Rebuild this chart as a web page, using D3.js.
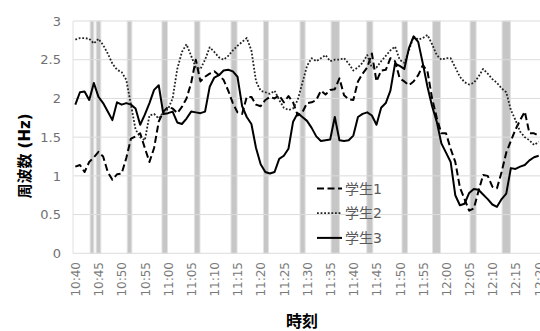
<!DOCTYPE html>
<html>
<head>
<meta charset="utf-8">
<script src="https://cdn.jsdelivr.net/npm/d3@7"></script>
<style>
body { margin: 0; background: #fff; }
svg { display: block; }
</style>
</head>
<body>
<div id="main"></div>
<script>
// one value per minute, 10:40 .. 12:20
var tickLabels = ["10:40", "10:45", "10:50", "10:55", "11:00", "11:05", "11:10", "11:15", "11:20", "11:25",
    "11:30", "11:35", "11:40", "11:45", "11:50", "11:55", "12:00", "12:05", "12:10", "12:15", "12:20"];
var seriesNames = ["学生1", "学生2", "学生3"];

var student1 = [1.12, 1.14, 1.05, 1.18, 1.24, 1.31, 1.25, 1.05, 0.95, 1.02,
    1.03, 1.23, 1.48, 1.51, 1.55, 1.36, 1.18, 1.36, 1.70, 1.83,
    1.89, 1.87, 1.81, 1.89, 2.00, 2.20, 2.50, 2.22, 2.28, 2.32,
    2.35, 2.30, 2.24, 2.10, 1.94, 1.82, 1.80, 2.02, 2.02, 1.92,
    1.90, 1.98, 2.02, 2.00, 2.04, 1.95, 2.03, 1.95, 1.78, 1.82,
    1.94, 1.95, 1.98, 2.10, 2.05, 2.11, 2.12, 2.26, 2.04, 1.99,
    1.98, 2.22, 2.32, 2.40, 2.58, 2.22, 2.36, 2.37, 2.52, 2.48,
    2.26, 2.22, 2.17, 2.22, 2.30, 2.43, 2.35, 2.00, 1.75, 1.55,
    1.55, 1.35, 1.18, 0.85, 0.70, 0.55, 0.58, 0.80, 1.01, 1.00,
    0.86, 0.84, 1.05, 1.30, 1.45, 1.60, 1.72, 1.83, 1.55, 1.55,
    1.52];

var student2 = [2.76, 2.78, 2.78, 2.77, 2.71, 2.77, 2.69, 2.58, 2.45, 2.37,
    2.34, 2.24, 1.92, 1.60, 1.50, 1.46, 1.78, 1.80, 1.74, 1.82,
    1.86, 2.00, 2.38, 2.60, 2.70, 2.55, 2.40, 2.38, 2.50, 2.66,
    2.60, 2.53, 2.50, 2.55, 2.62, 2.68, 2.73, 2.78, 2.62, 2.22,
    2.10, 2.08, 2.06, 2.10, 1.98, 1.88, 1.85, 1.87, 1.98, 2.20,
    2.42, 2.52, 2.48, 2.52, 2.56, 2.48, 2.50, 2.50, 2.52, 2.45,
    2.36, 2.40, 2.46, 2.56, 2.40, 2.40, 2.48, 2.55, 2.62, 2.67,
    2.50, 2.46, 2.62, 2.80, 2.76, 2.78, 2.82, 2.70, 2.56, 2.50,
    2.52, 2.52, 2.40, 2.28, 2.21, 2.18, 2.20, 2.28, 2.38, 2.32,
    2.25, 2.20, 2.13, 2.08, 1.85, 1.72, 1.57, 1.50, 1.46, 1.40,
    1.44];

var student3 = [1.92, 2.08, 2.09, 1.98, 2.20, 2.02, 1.94, 1.83, 1.72, 1.95,
    1.92, 1.94, 1.92, 1.87, 1.66, 1.79, 1.94, 2.11, 2.17, 1.80,
    1.81, 1.83, 1.69, 1.67, 1.74, 1.83, 1.82, 1.81, 1.83, 2.15,
    2.27, 2.30, 2.36, 2.37, 2.35, 2.28, 1.90, 1.76, 1.67, 1.36,
    1.15, 1.05, 1.03, 1.05, 1.22, 1.26, 1.35, 1.70, 1.81, 1.76,
    1.71, 1.62, 1.51, 1.45, 1.46, 1.47, 1.76, 1.46, 1.45, 1.46,
    1.52, 1.76, 1.80, 1.82, 1.78, 1.66, 1.88, 1.94, 2.10, 2.45,
    2.42, 2.38, 2.65, 2.80, 2.73, 2.45, 2.15, 1.90, 1.70, 1.42,
    1.30, 1.18, 0.75, 0.62, 0.64, 0.78, 0.83, 0.82, 0.76, 0.70,
    0.63, 0.60, 0.70, 0.77, 1.10, 1.09, 1.12, 1.14, 1.20, 1.24,
    1.26];

// shaded intervals, in minutes after 10:40
var bandStart = [3.2, 4.5, 11.2, 18.7, 25.7, 33.6, 40.6, 48.5, 55.2, 62.9, 70.5, 77.1, 85.2, 92.1];
var bandEnd = [4.0, 5.5, 12.2, 19.9, 26.9, 34.9, 41.7, 49.6, 57.0, 64.2, 71.7, 78.8, 86.5, 93.9];

var yTicks = [0, 0.5, 1, 1.5, 2, 2.5, 3];

var ctx = {
    w: 540,
    h: 331,
    left: 73,
    right: 541,
    top: 21,
    bottom: 253.3,
};

var svg = d3.select("#main").append("svg")
    .attr("width", ctx.w)
    .attr("height", ctx.h);

var x = d3.scaleLinear().domain([-0.5, 100.5]).range([ctx.left, ctx.right]);
var y = d3.scaleLinear().domain([0, 3]).range([ctx.bottom, ctx.top]);

// shaded bands (soft edge + core)
var bands = svg.append("g").selectAll("rect")
    .data(bandStart)
    .enter()
    .append("rect")
    .attr("x", function (d) { return x(d); })
    .attr("width", function (d, i) { return x(bandEnd[i]) - x(d); })
    .attr("y", ctx.top)
    .attr("height", ctx.bottom - ctx.top)
    .attr("fill", "#c6c6c6")
    .attr("stroke", "#e2e2e2")
    .attr("stroke-width", 1);

// horizontal grid
svg.append("g").selectAll("line")
    .data(yTicks)
    .enter()
    .append("line")
    .attr("x1", ctx.left)
    .attr("x2", ctx.right)
    .attr("y1", function (d) { return y(d); })
    .attr("y2", function (d) { return y(d); })
    .attr("stroke", "#dcdcdc")
    .attr("stroke-width", 1);

svg.append("line")
    .attr("x1", ctx.left).attr("x2", ctx.left)
    .attr("y1", ctx.top).attr("y2", ctx.bottom)
    .attr("stroke", "#e0e0e0");

// y labels
svg.append("g").selectAll("text")
    .data(yTicks)
    .enter()
    .append("text")
    .attr("x", 61)
    .attr("y", function (d) { return y(d); })
    .attr("dy", "0.36em")
    .attr("text-anchor", "end")
    .attr("font-family", "DejaVu Sans, sans-serif")
    .attr("font-size", 13)
    .attr("fill", "#707070")
    .text(function (d) { return d; });

// x labels, rotated
svg.append("g").selectAll("text")
    .data(tickLabels)
    .enter()
    .append("text")
    .attr("transform", function (d, i) {
        return "translate(" + (x(i * 5) + 0.5) + ",262)rotate(-90)";
    })
    .attr("dy", "0.36em")
    .attr("text-anchor", "end")
    .attr("font-family", "DejaVu Sans, sans-serif")
    .attr("font-size", 12)
    .attr("fill", "#7a7a7a")
    .text(function (d) { return d; });

// axis titles
svg.append("text")
    .attr("transform", "translate(25,156)rotate(-90)")
    .attr("dy", "0.36em")
    .attr("text-anchor", "middle")
    .attr("font-family", "DejaVu Sans, Noto Sans CJK JP, sans-serif")
    .attr("font-weight", "bold")
    .attr("font-size", 15)
    .attr("fill", "#000")
    .text("周波数 (Hz)");

svg.append("text")
    .attr("x", 302)
    .attr("y", 327)
    .attr("text-anchor", "middle")
    .attr("font-family", "Noto Sans CJK JP, sans-serif")
    .attr("font-weight", "bold")
    .attr("font-size", 16)
    .attr("fill", "#000")
    .text("時刻");

// lines
var styles = [
    { dash: "7,3.5", width: 2, color: "#000" },
    { dash: "1.8,1.8", width: 1.8, color: "#222" },
    { dash: null, width: 2, color: "#000" },
];
var allSeries = [student1, student2, student3];

var line = d3.line()
    .x(function (d, i) { return x(i); })
    .y(function (d) { return y(d); });

svg.append("g").selectAll("path")
    .data(allSeries)
    .enter()
    .append("path")
    .attr("d", line)
    .attr("fill", "none")
    .attr("stroke", function (d, i) { return styles[i].color; })
    .attr("stroke-width", function (d, i) { return styles[i].width; })
    .attr("stroke-dasharray", function (d, i) { return styles[i].dash; })
    .attr("stroke-linejoin", "round");

// legend
var legend = svg.append("g").selectAll("g")
    .data(seriesNames)
    .enter()
    .append("g")
    .attr("transform", function (d, i) { return "translate(317," + (188.5 + i * 24.7) + ")"; });

legend.append("line")
    .attr("x1", 0).attr("x2", 25)
    .attr("stroke", function (d, i) { return styles[i].color; })
    .attr("stroke-width", function (d, i) { return styles[i].width; })
    .attr("stroke-dasharray", function (d, i) { return styles[i].dash; });

legend.append("text")
    .attr("x", 28)
    .attr("dy", "0.36em")
    .attr("font-family", "DejaVu Sans, Noto Sans CJK JP, sans-serif")
    .attr("font-size", 14)
    .attr("fill", "#595959")
    .text(function (d) { return d; });
</script>
</body>
</html>
